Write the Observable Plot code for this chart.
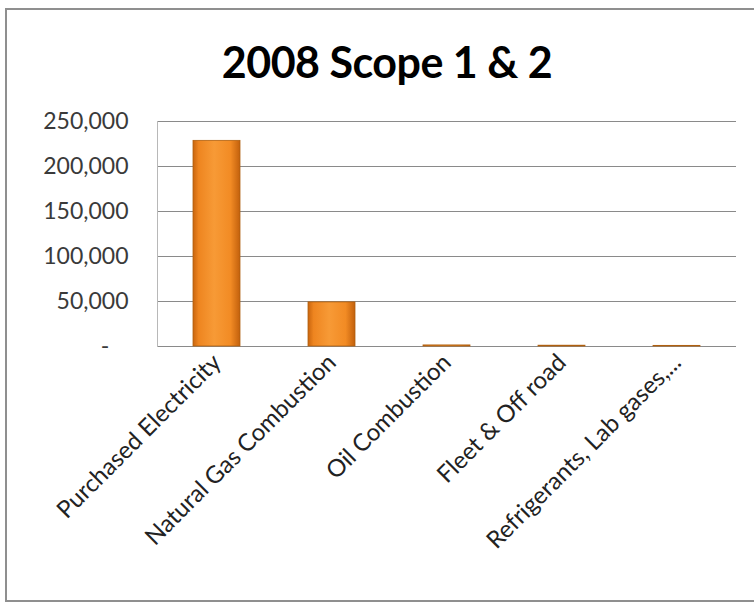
<!DOCTYPE html>
<html>
<head>
<meta charset="utf-8">
<script src="https://cdn.jsdelivr.net/npm/d3@7"></script>
<script src="https://cdn.jsdelivr.net/npm/@observablehq/plot@0.6"></script>
<style>
  html, body { margin: 0; padding: 0; background: #fff; }
  #wrap { position: relative; width: 754px; height: 606px; overflow: hidden; background: #fff; }
  #frame { position: absolute; left: 5px; top: 8px; width: 770px; height: 594px; border: 2px solid #8f8f8f; box-sizing: border-box; }
  #title { position: absolute; left: 0; top: 0; width: 774px; height: 100px; text-align: center;
           font-family: Lato, "Open Sans", sans-serif; font-weight: bold; font-size: 43px; color: #000;
           line-height: 124px; letter-spacing: -0.5px; }
  #chart { position: absolute; left: 0; top: 100px; }
</style>
</head>
<body>
<div id="wrap">
  <div id="frame"></div>
  <div id="title">2008 Scope 1 &amp; 2</div>
  <div id="chart"></div>
</div>
<script>
const categories = ["Purchased Electricity", "Natural Gas Combustion", "Oil Combustion", "Fleet & Off road", "Refrigerants, Lab gases,..."];
const values = [228500, 49000, 1200, 900, 700];
const yTicks = [0, 50000, 100000, 150000, 200000, 250000];

const data = categories.map((c, i) => ({category: c, value: values[i]}));
const fmt = d3.format(",");

const plot = Plot.plot({
  width: 754,
  height: 506,
  marginTop: 21,
  marginBottom: 260,
  marginLeft: 157,
  marginRight: 18,
  style: {fontFamily: "Lato, 'Open Sans', sans-serif", fontSize: "23px", color: "#3a3a3a", background: "transparent", overflow: "visible"},
  x: {domain: categories, paddingInner: 0.59, paddingOuter: 0.295, label: null},
  y: {domain: [0, 250000], label: null},
  marks: [
    Plot.gridY(yTicks, {stroke: "#8a8a8a", strokeOpacity: 1, strokeWidth: 1.2}),
    Plot.frame({anchor: "left", stroke: "#b8b8b8"}),
    Plot.barY(data, {x: "category", y: "value", fill: "url(#barGrad)", stroke: "#b0600f", strokeWidth: 0.8}),
    Plot.axisY(yTicks, {tickSize: 0, tickPadding: 29, tickFormat: d => d === 0 ? "-\u2007\u00a0" : fmt(d), fill: "#3a3a3a"}),
    Plot.axisX({tickSize: 0, tickPadding: 12, tickRotate: -45, fill: "#222", fontSize: 24, label: null})
  ]
});

// gradient for the bars
const svgNS = "http://www.w3.org/2000/svg";
const defs = document.createElementNS(svgNS, "defs");
const grad = document.createElementNS(svgNS, "linearGradient");
grad.setAttribute("id", "barGrad");
grad.setAttribute("x1", "0"); grad.setAttribute("x2", "1");
grad.setAttribute("y1", "0"); grad.setAttribute("y2", "0");
[["0%", "#c9650e"], ["12%", "#ee8520"], ["45%", "#f79a36"], ["80%", "#f28b24"], ["100%", "#c2600c"]].forEach(([o, c]) => {
  const s = document.createElementNS(svgNS, "stop");
  s.setAttribute("offset", o); s.setAttribute("stop-color", c);
  grad.appendChild(s);
});
defs.appendChild(grad);
plot.insertBefore(defs, plot.firstChild);

document.getElementById("chart").appendChild(plot);
</script>
</body>
</html>
